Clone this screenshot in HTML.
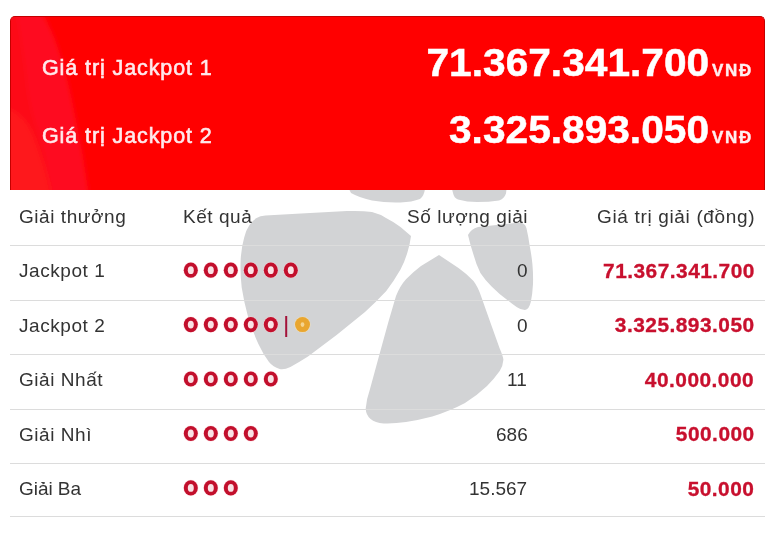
<!DOCTYPE html>
<html lang="vi">
<head>
<meta charset="utf-8">
<title>Vietlott Power 6/55</title>
<style>
  html, body { margin: 0; padding: 0; }
  body {
    width: 780px; height: 535px; position: relative; overflow: hidden;
    background: #ffffff;
    font-family: "Liberation Sans", sans-serif;
    color: #333333;
  }
  .t { position: absolute; white-space: nowrap; line-height: 1; transform-origin: 0 0; will-change: transform; }
  .r { transform-origin: 100% 0; }

  /* red banner */
  #banner {
    position: absolute; left: 10px; top: 16px; width: 755px; height: 174px;
    box-sizing: border-box;
    background: #ff0000;
    border: 1px solid #c40000; border-bottom: none;
    border-radius: 5px 5px 0 0;
    overflow: hidden;
  }
  #banner svg { position: absolute; left: -1px; top: -1px; }
  .lbl { color: #ffe9ec; font-size: 21.5px; letter-spacing: 0.9px; -webkit-text-stroke: 0.6px #ffe9ec; }
  .big { color: #ffffff; font-size: 38px; font-weight: bold; transform: scaleX(1.07); -webkit-text-stroke: 0.5px #ffffff; }
  .vnd { color: #ffeef0; font-size: 17px; font-weight: bold; letter-spacing: 1.7px; -webkit-text-stroke: 0.4px #ffeef0; }

  /* table */
  .line { position: absolute; left: 10px; width: 755px; height: 1px; background: #dcdcdc; }
  .h, .c { font-size: 19px; color: #333333; letter-spacing: 0.55px; }
  .q { letter-spacing: 0; }
  .v { font-size: 19.5px; font-weight: bold; color: #c8102e; letter-spacing: 0.45px; transform: scaleX(1.07); -webkit-text-stroke: 0.3px #c8102e; }

  .balls { position: absolute; left: 183.8px; height: 16px; white-space: nowrap; font-size: 0; }
  .b {
    display: inline-block; box-sizing: border-box; width: 14px; height: 15px;
    border: 4.6px solid #c8102e; border-top-width: 4.2px; border-bottom-width: 4.2px;
    border-radius: 50%; background: #f7d9dc; margin-right: 6px; vertical-align: top;
    box-shadow: 0 0 1.5px 0.5px rgba(255,200,205,0.9);
  }
  .b.y { border-color: #e9a630; background: #f6d79a; box-shadow: 0 0 1.5px 0.5px rgba(250,225,170,0.9); border-width: 5px; width: 15px; margin-right: 0; }
  .bar { display: inline-block; width: 2px; height: 21px; background: #a3123a; vertical-align: top; margin: -1px 8px 0 0.7px; }
</style>
</head>
<body>

<!-- watermark -->
<svg id="wm" width="780" height="535" viewBox="0 0 780 535" style="position:absolute;left:0;top:0">
  <g fill="#d2d3d5">
    <!-- petal A (left) -->
    <path d="M256.6 218.1 Q260 216 265.5 215.6 L301 213.5 L347 211 Q362 210.5 372 212 Q380 214 386 218 Q394 222 400.5 227 L411 235.9 Q410 244 407.6 251.8 Q405 261 400.5 269.6 Q394 281 386.3 291 Q376 302 365 312 L336.6 335 L308 356.6 Q298 363 290.4 367 Q284 370 279.7 369 Q273 367 269 362 Q263 354 258.4 344 Q252 330 247.8 315.8 Q244 302 241.7 287.4 Q240 273 240.7 259 Q241.5 247 244.2 237.6 Q246 230 249.5 225 Q252.5 220.5 256.6 218.1 Z"/>
    <!-- petal B (bottom) -->
    <path d="M439 255 L458.5 268 Q467 274 473.5 281 Q478 287 481 296 L490.3 322.3 L499.7 348.5 Q503 356 503.4 359.8 Q503 366 499.7 371 Q494 379 487 386 Q477 395.5 465 403 Q450 411 432.3 416.5 Q419 420 406 422 Q394 423.8 383.7 423.4 Q375 423 370.6 419 Q366 415 365.7 408.4 Q366.5 399 369.8 389.7 L379 356 L388.3 322.3 L396 296 Q400 286 406 279.3 Q413 272 421 266 Z"/>
    <!-- petal C (right) -->
    <path d="M468 235 Q471 229 478 227 L520 222.5 Q525 223 526.4 228 Q528.5 237 529.7 246 Q531.5 255 532.4 264 Q533.3 274 533 284 Q532.5 294 530.8 302 Q529 309.5 525 310 Q521 310 517 307.2 Q512 304 507.3 300 Q499 294 491.6 286.5 Q485 280 480.4 273 Q476 264 473.6 255 Q470 244 468 235 Z"/>
    <!-- top petals (peeking under banner) -->
    <path d="M349 189 L351 193 Q360 198 372 200.5 Q386 203 400.5 202.5 Q412 202 420 199 Q424 196 425 189 Z"/>
    <path d="M452 189 L453 193 Q454 198 458 199.5 Q467 202 477 202 Q489 202 499 200.5 Q504 199 506 193.5 L506.5 189 Z"/>
  </g>
</svg>

<!-- banner -->
<div id="banner">
  <svg width="755" height="174" viewBox="0 0 755 174">
    <defs>
      <filter id="bl" x="-20%" y="-20%" width="140%" height="140%"><feGaussianBlur stdDeviation="2.5"/></filter>
    </defs>
    <g filter="url(#bl)">
      <!-- whole tinted area on the left -->
      <path d="M-5 -5 L30 -5 Q42 14 47 29 Q56 55 61 80 Q67 110 72 135 Q76 160 79 180 L-5 180 Z" fill="#fb1236" opacity="0.42"/>
      <!-- brighter band -->
      <path d="M6 -5 L32 -5 Q42 14 47 29 Q56 55 61 80 Q67 110 72 135 Q76 160 79 180 L42 180 Q38 150 29 118 Q20 95 17 70 Q13 30 6 -5 Z" fill="#ff2048" opacity="0.22"/>
      <!-- orange-ish corner -->
      <path d="M-5 92 Q14 96 24 120 Q36 150 42 180 L-5 180 Z" fill="#ff3320" opacity="0.38"/>
    </g>
  </svg>
</div>

<div class="t lbl" id="l1" style="left:42px; top:58px;">Giá trị Jackpot 1</div>
<div class="t lbl" id="l2" style="left:42px; top:126px;">Giá trị Jackpot 2</div>
<div class="t big r" id="n1" style="right:71px; top:44px;">71.367.341.700</div>
<div class="t big r" id="n2" style="right:71px; top:111px;">3.325.893.050</div>
<div class="t vnd" id="v1" style="left:711.5px; top:61.5px;">VNĐ</div>
<div class="t vnd" id="v2" style="left:711.5px; top:128.5px;">VNĐ</div>

<!-- table lines -->
<div class="line" style="top:245px"></div>
<div class="line" style="top:300px"></div>
<div class="line" style="top:354px"></div>
<div class="line" style="top:409px"></div>
<div class="line" style="top:463px"></div>
<div class="line" style="top:516px"></div>

<!-- header -->
<div class="t h" id="h1" style="left:19px; top:207px;">Giải thưởng</div>
<div class="t h" id="h2" style="left:183px; top:207px;">Kết quả</div>
<div class="t h r" id="h3" style="right:252px; top:207px;">Số lượng giải</div>
<div class="t h r" id="h4" style="right:25px; top:207px; letter-spacing:0.66px;">Giá trị giải (đồng)</div>

<!-- rows -->
<div class="t c" id="a1" style="left:19px; top:261px;">Jackpot 1</div>
<div class="t c" id="a2" style="left:19px; top:316px;">Jackpot 2</div>
<div class="t c" id="a3" style="left:19px; top:370px;">Giải Nhất</div>
<div class="t c" id="a4" style="left:19px; top:425px;">Giải Nhì</div>
<div class="t c" id="a5" style="left:19px; top:479px; letter-spacing:-0.05px;">Giải Ba</div>

<svg id="balls" width="780" height="535" viewBox="0 0 780 535" style="position:absolute;left:0;top:0">
  <defs>
    <g id="o">
      <ellipse cx="0" cy="0" rx="7.6" ry="8.1" fill="#ffc9cf" opacity="0.55"/>
      <ellipse cx="0" cy="0" rx="7" ry="7.6" fill="#c20f2c"/>
      <ellipse cx="0" cy="0" rx="3" ry="3.9" fill="#f9e2e5"/>
    </g>
    <g id="oy">
      <ellipse cx="0" cy="0" rx="8.2" ry="8.2" fill="#fae3b0" opacity="0.6"/>
      <ellipse cx="0" cy="0" rx="7.5" ry="7.5" fill="#e9a630"/>
      <ellipse cx="0" cy="0" rx="1.9" ry="2.3" fill="#f5d491"/>
    </g>
  </defs>
  <use href="#o" x="190.8" y="270.2"/>
  <use href="#o" x="210.8" y="270.2"/>
  <use href="#o" x="230.8" y="270.2"/>
  <use href="#o" x="250.8" y="270.2"/>
  <use href="#o" x="270.8" y="270.2"/>
  <use href="#o" x="290.8" y="270.2"/>
  <use href="#o" x="190.8" y="324.6"/>
  <use href="#o" x="210.8" y="324.6"/>
  <use href="#o" x="230.8" y="324.6"/>
  <use href="#o" x="250.8" y="324.6"/>
  <use href="#o" x="270.8" y="324.6"/>
  <rect x="285.2" y="316" width="2" height="21" fill="#a3123a"/>
  <use href="#oy" x="302.5" y="324.6"/>
  <use href="#o" x="190.8" y="379.0"/>
  <use href="#o" x="210.8" y="379.0"/>
  <use href="#o" x="230.8" y="379.0"/>
  <use href="#o" x="250.8" y="379.0"/>
  <use href="#o" x="270.8" y="379.0"/>
  <use href="#o" x="190.8" y="433.5"/>
  <use href="#o" x="210.8" y="433.5"/>
  <use href="#o" x="230.8" y="433.5"/>
  <use href="#o" x="250.8" y="433.5"/>
  <use href="#o" x="190.8" y="487.9"/>
  <use href="#o" x="210.8" y="487.9"/>
  <use href="#o" x="230.8" y="487.9"/>
</svg>

<div class="t c q r" id="q1" style="right:252.8px; top:261px;">0</div>
<div class="t c q r" id="q2" style="right:252.8px; top:316px;">0</div>
<div class="t c q r" id="q3" style="right:252.8px; top:370px;">11</div>
<div class="t c q r" id="q4" style="right:252.8px; top:425px;">686</div>
<div class="t c q r" id="q5" style="right:252.8px; top:479px;">15.567</div>

<div class="t v r" id="p1" style="right:25.5px; top:262px;">71.367.341.700</div>
<div class="t v r" id="p2" style="right:25.5px; top:316px;">3.325.893.050</div>
<div class="t v r" id="p3" style="right:25.5px; top:371px;">40.000.000</div>
<div class="t v r" id="p4" style="right:25.5px; top:425px;">500.000</div>
<div class="t v r" id="p5" style="right:25.5px; top:480px;">50.000</div>

</body>
</html>
